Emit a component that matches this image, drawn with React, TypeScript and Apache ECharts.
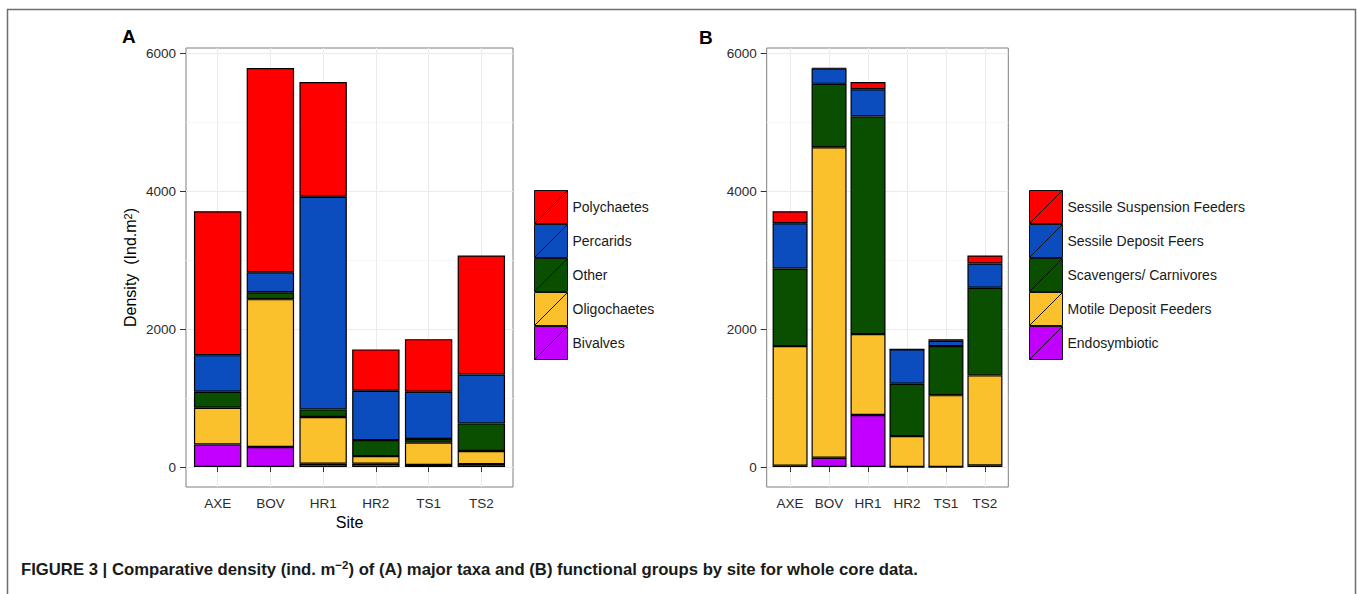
import React, { useEffect, useRef } from 'react';
import * as echarts from 'echarts';

const FONT = '"Liberation Sans", Arial, Helvetica, sans-serif';

const sites = ['AXE', 'BOV', 'HR1', 'HR2', 'TS1', 'TS2'];
const sitePositions = [1, 2, 3, 4, 5, 6];

// Panel A: major taxa (stack order bottom -> top)
const bivalves = [329, 290, 49, 49, 29, 43];
const oligochaetes = [532, 2145, 676, 110, 325, 189];
const other = [232, 101, 111, 232, 52, 401];
const percarids = [530, 290, 3083, 716, 687, 710];
const polychaetes = [2087, 2962, 1666, 599, 762, 1725];

// Panel B: functional groups (stack order bottom -> top)
const endosymbiotic = [20, 136, 754, 0, 0, 25];
const motileDeposit = [1734, 4502, 1174, 449, 1043, 1304];
const scavengers = [1126, 919, 3155, 760, 711, 1271];
const sessileDeposit = [656, 221, 395, 497, 78, 352];
const sessileSuspension = [174, 10, 107, 0, 23, 116];

const yTicks = [0, 2000, 4000, 6000];
const yMinorTicks = [1000, 3000, 5000];
const yMin = -289;
const yMax = 6077;

const COLORS = {
  red: '#FF0000',
  blue: '#0B4DBE',
  green: '#0A4F00',
  yellow: '#FBC12D',
  purple: '#C100FF',
};

const taxaSeries = [
  { name: 'Bivalves', data: bivalves, color: COLORS.purple },
  { name: 'Oligochaetes', data: oligochaetes, color: COLORS.yellow },
  { name: 'Other', data: other, color: COLORS.green },
  { name: 'Percarids', data: percarids, color: COLORS.blue },
  { name: 'Polychaetes', data: polychaetes, color: COLORS.red },
];

const groupSeries = [
  { name: 'Endosymbiotic', data: endosymbiotic, color: COLORS.purple },
  { name: 'Motile Deposit Feeders', data: motileDeposit, color: COLORS.yellow },
  { name: 'Scavengers/ Carnivores', data: scavengers, color: COLORS.green },
  { name: 'Sessile Deposit Feers', data: sessileDeposit, color: COLORS.blue },
  { name: 'Sessile Suspension Feeders', data: sessileSuspension, color: COLORS.red },
];

const LEGEND_ICON = 'path://M0,0L20,0L20,20L0,20Z M0,20L20,0';

function makeXAxis(gridIndex: number, withName: boolean) {
  return {
    type: 'value',
    gridIndex,
    min: 0.4,
    max: 6.6,
    name: withName ? 'Site' : '',
    nameLocation: 'middle',
    nameGap: 24,
    nameTextStyle: { fontFamily: FONT, fontSize: 16, color: '#000' },
    axisLine: { show: false },
    axisTick: { show: true, customValues: sitePositions, length: 5, lineStyle: { color: '#333', width: 1 } },
    axisLabel: {
      customValues: sitePositions,
      formatter: (v: number) => sites[Math.round(v) - 1] ?? '',
      fontFamily: FONT,
      fontSize: 13.5,
      color: '#2b2b2b',
      margin: 9,
    },
    splitLine: { show: true, lineStyle: { color: '#ebebeb', width: 1 } },
  };
}

function makeYAxes(gridIndex: number, withName: boolean) {
  return [
    {
      type: 'value',
      gridIndex,
      min: yMin,
      max: yMax,
      name: withName ? 'Density  (Ind.m{sup|2})' : '',
      nameLocation: 'middle',
      nameGap: 48,
      nameTextStyle: {
        fontFamily: FONT,
        fontSize: 16,
        color: '#000',
        rich: { sup: { fontFamily: FONT, fontSize: 11, color: '#000', verticalAlign: 'top' } },
      },
      axisLine: { show: false },
      axisTick: { show: true, customValues: yTicks, length: 6, lineStyle: { color: '#333', width: 1 } },
      axisLabel: {
        customValues: yTicks,
        formatter: (v: number) => String(Math.round(v)),
        fontFamily: FONT,
        fontSize: 13.5,
        color: '#2b2b2b',
        margin: 10,
      },
      splitLine: { show: true, lineStyle: { color: '#ebebeb', width: 1 } },
    },
    {
      type: 'value',
      gridIndex,
      min: yMin,
      max: yMax,
      position: 'left',
      axisLine: { show: false },
      axisTick: { show: false, customValues: yMinorTicks },
      axisLabel: { show: false, customValues: yMinorTicks },
      splitLine: { show: true, lineStyle: { color: '#f6f6f6', width: 1 } },
    },
  ];
}

function makeSeries(list: { name: string; data: number[]; color: string }[], axisIdx: number, yIdx: number, stack: string, barWidth: number) {
  return list.map((s) => ({
    type: 'bar',
    name: s.name,
    stack,
    xAxisIndex: axisIdx,
    yAxisIndex: yIdx,
    barWidth,
    // value first so that the stacked dimension is the y value
    dimensions: ['value', 'site'],
    encode: { x: 'site', y: 'value' },
    data: s.data.map((v, i) => [v, sitePositions[i]]),
    itemStyle: { color: s.color, borderColor: '#000', borderWidth: 1.2 },
    emphasis: { disabled: true },
  }));
}

function makeLegend(left: number, names: string[]) {
  return {
    orient: 'vertical',
    left,
    top: 190,
    padding: 0,
    itemWidth: 33,
    itemHeight: 33,
    itemGap: 0,
    icon: LEGEND_ICON,
    selectedMode: false,
    data: names,
    itemStyle: { borderColor: '#111', borderWidth: 1 },
    textStyle: { fontFamily: FONT, fontSize: 14, color: '#1a1a1a' },
  };
}

export default function App() {
  const ref = useRef<HTMLDivElement>(null);

  useEffect(() => {
    if (!ref.current) return;
    const chart = echarts.init(ref.current, null, { renderer: 'svg' });
    const option = {
      animation: false,
      backgroundColor: '#ffffff',
      textStyle: { fontFamily: FONT },
      grid: [
        { left: 186, top: 48, width: 327, height: 439, show: true, borderColor: '#7f7f7f', borderWidth: 1, backgroundColor: '#fff', containLabel: false },
        { left: 766.7, top: 48, width: 241.6, height: 439, show: true, borderColor: '#7f7f7f', borderWidth: 1, backgroundColor: '#fff', containLabel: false },
      ],
      xAxis: [makeXAxis(0, true), makeXAxis(1, false)],
      yAxis: [...makeYAxes(0, true), ...makeYAxes(1, false)],
      legend: [
        makeLegend(534, taxaSeries.map((s) => s.name).reverse()),
        makeLegend(1029, groupSeries.map((s) => s.name).reverse()),
      ],
      series: [
        ...makeSeries(taxaSeries, 0, 0, 'A', 47.4),
        ...makeSeries(groupSeries, 1, 2, 'B', 35),
      ],
      graphic: [
        {
          type: 'rect',
          silent: true,
          shape: { x: 7.5, y: 9.5, width: 1348, height: 700 },
          style: { fill: 'none', stroke: '#6e6e6e', lineWidth: 1.5 },
        },
        {
          type: 'text',
          x: 122,
          y: 27,
          style: { text: 'A', fontFamily: FONT, fontSize: 19, fontWeight: 'bold', fill: '#000', verticalAlign: 'top' },
        },
        {
          type: 'text',
          x: 699,
          y: 28,
          style: { text: 'B', fontFamily: FONT, fontSize: 19, fontWeight: 'bold', fill: '#000', verticalAlign: 'top' },
        },
        {
          type: 'text',
          x: 21,
          y: 569,
          style: {
            text: '{b|FIGURE 3 | Comparative density (ind. m}{sup|−2}{b|) of (A) major taxa and (B) functional groups by site for whole core data.}',
            verticalAlign: 'middle',
            rich: {
              b: { fontFamily: FONT, fontSize: 16.7, fontWeight: 'bold', fill: '#1a1a1a', lineHeight: 20 },
              sup: { fontFamily: FONT, fontSize: 11.5, fontWeight: 'bold', fill: '#1a1a1a', verticalAlign: 'top', lineHeight: 20 },
            },
          },
        },
      ],
    };
    chart.setOption(option as any);
    return () => chart.dispose();
  }, []);

  return <div ref={ref} style={{ position: 'absolute', left: 0, top: 0, width: 1357, height: 594 }} />;
}
